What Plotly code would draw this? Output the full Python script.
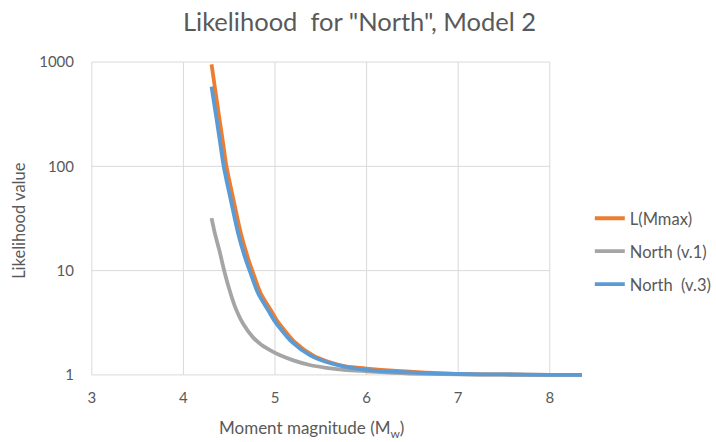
import plotly.graph_objects as go

# Likelihood curves vs. moment magnitude
mmax_x = [4.307, 4.34, 4.386, 4.43, 4.47, 4.547, 4.627, 4.70, 4.752, 4.845, 4.955, 5.03,
          5.12, 5.21, 5.41, 5.59, 5.77, 6.00, 6.33, 6.66, 6.75, 7.00, 7.50, 8.00, 8.35]
mmax_y = [950, 600, 316, 174, 100, 47.6, 22.8, 13.6, 10, 6.04, 4.17, 3.24,
          2.57, 2.09, 1.55, 1.33, 1.21, 1.15, 1.09, 1.05, 1.04, 1.02, 1.01, 1.0, 1.0]

v1_x = [4.307, 4.343, 4.397, 4.433, 4.488, 4.561, 4.652, 4.76, 4.85, 4.95, 5.05,
        5.20, 5.38, 5.56, 5.75, 6.00, 6.30, 6.60, 7.00, 7.50, 8.00, 8.35]
v1_y = [31.8, 22.8, 15.1, 11.0, 7.24, 4.57, 3.09, 2.29, 1.95, 1.72, 1.55,
        1.38, 1.245, 1.17, 1.12, 1.084, 1.047, 1.023, 1.012, 1.005, 1.0, 1.0]

v3_x = [4.307, 4.335, 4.361, 4.40, 4.44, 4.517, 4.597, 4.670, 4.725, 4.816, 4.925, 5.00,
        5.09, 5.18, 5.38, 5.562, 5.744, 6.00, 6.33, 6.66, 7.00, 7.50, 8.00, 8.35]
v3_y = [581, 403, 288, 170, 100, 47.6, 22.8, 13.6, 9.9, 6.04, 4.17, 3.24,
        2.57, 2.09, 1.55, 1.33, 1.21, 1.12, 1.07, 1.04, 1.02, 1.01, 1.0, 1.0]

series_names = ["L(Mmax)", "North (v.1)", "North  (v.3)"]
series_colors = ["#ED7D31", "#A5A5A5", "#5B9BD5"]

x_ticks = [3, 4, 5, 6, 7, 8]
y_ticks = [1, 10, 100, 1000]

TEXT = "#595959"
GRID = "#D9D9D9"
FONT = "Lato"

fig = go.Figure()

# gridlines confined to the 3..8 / 1..1000 box
gx, gy = [], []
for v in x_ticks:
    gx += [v, v, None]
    gy += [y_ticks[0], y_ticks[-1], None]
for v in y_ticks:
    gx += [x_ticks[0], x_ticks[-1], None]
    gy += [v, v, None]
fig.add_trace(go.Scatter(x=gx, y=gy, mode="lines", line=dict(color=GRID, width=1),
                         showlegend=False, hoverinfo="skip"))

for name, color, xs, ys in zip(series_names, series_colors,
                               [mmax_x, v1_x, v3_x], [mmax_y, v1_y, v3_y]):
    fig.add_trace(go.Scatter(x=xs, y=ys, mode="lines", name=name, legendgroup=name,
                             line=dict(color=color, width=3.8, shape="spline", smoothing=0.8)))

# plot area: x 90.2..591.2 px, y 61.3..376.6 px
L, R, T, B = 90.2, 591.2, 61.3, 376.6
W, H = R - L, B - T

def px_x(p):
    return (p - L) / W

def px_y(p):
    return (B - p) / H

fig.update_layout(
    width=716, height=442,
    paper_bgcolor="white", plot_bgcolor="white",
    margin=dict(l=L, r=716 - R, t=T, b=442 - B, autoexpand=False),
    font=dict(family=FONT, color=TEXT, size=15),
    title=dict(text='Likelihood  for "North", Model 2', x=359.5 / 716, xanchor="center",
               y=1 - 22 / 442, yanchor="middle", font=dict(size=25.5, color=TEXT, family=FONT)),
    xaxis=dict(range=[2.98, 8.45], tickvals=x_ticks, showgrid=False, zeroline=False,
               showline=False, ticks="", ticklabelstandoff=10,
               tickfont=dict(size=15, color=TEXT)),
    yaxis=dict(type="log", range=[-0.02, 3.01], tickvals=y_ticks, ticktext=["1", "10", "100", "1000"],
               showgrid=False, zeroline=False, showline=False, ticks="", ticklabelstandoff=15,
               tickfont=dict(size=15, color=TEXT)),
    legend=dict(xref="paper", yref="paper", x=px_x(590), y=px_y(201),
                xanchor="left", yanchor="top", font=dict(size=16.5, color=TEXT),
                tracegroupgap=8.5, bgcolor="rgba(0,0,0,0)", borderwidth=0),
    annotations=[
        dict(text="Likelihood value", xref="paper", yref="paper", x=px_x(19), y=px_y(220),
             textangle=-90, showarrow=False, font=dict(size=16.5, color=TEXT),
             xanchor="center", yanchor="middle"),
        dict(text="Moment magnitude (M<sub>w</sub>)", xref="paper", yref="paper",
             x=px_x(311.5), y=px_y(428), showarrow=False, font=dict(size=17, color=TEXT),
             xanchor="center", yanchor="middle"),
    ],
)

fig.write_html("out.html")
